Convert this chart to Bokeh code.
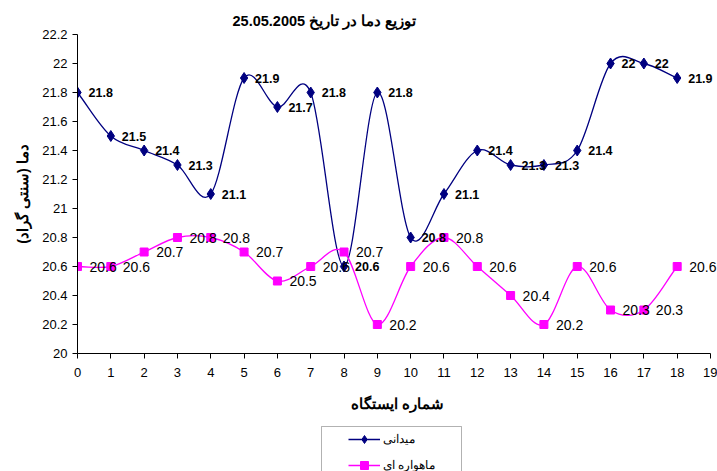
import numpy as np
from bokeh.plotting import figure
from bokeh.layouts import column
from bokeh.models import Range1d, FixedTicker, Legend, LegendItem, ColumnDataSource, BoxAnnotation
from bokeh.core.properties import value
from bokeh.embed import file_html
from bokeh.resources import INLINE

stations = list(range(19))
field = [21.8, 21.5, 21.4, 21.3, 21.1, 21.9, 21.7, 21.8, 20.6, 21.8, 20.8, 21.1, 21.4, 21.3, 21.3, 21.4, 22.0, 22.0, 21.9]
satellite = [20.6, 20.6, 20.7, 20.8, 20.8, 20.7, 20.5, 20.6, 20.7, 20.2, 20.6, 20.8, 20.6, 20.4, 20.2, 20.6, 20.3, 20.3, 20.6]
y_ticks = [20.0, 20.2, 20.4, 20.6, 20.8, 21.0, 21.2, 21.4, 21.6, 21.8, 22.0, 22.2]
x_ticks = list(range(20))

title_text = "توزیع دما در تاریخ 25.05.2005"
x_title = "شماره ایستگاه"
y_title = "دما (سنتی گراد)"
name_field = "میدانی"
name_sat = "ماهواره ای"

NAVY = "#000080"
MAGENTA = "#FF00FF"
FONT = "Liberation Sans"

X_AXIS_END = 19
X_VIEW_END = X_AXIS_END * 640 / 633   # a few px of room right of the axis for the last labels


def smooth_segments(xs, ys):
    xs = np.asarray(xs, float)
    ys = np.asarray(ys, float)
    n = len(xs)
    tx = np.zeros(n)
    ty = np.zeros(n)
    for i in range(n):
        a = max(i - 1, 0)
        b = min(i + 1, n - 1)
        tx[i] = (xs[b] - xs[a]) / (b - a) if b != a else 0
        ty[i] = (ys[b] - ys[a]) / (b - a) if b != a else 0
    return dict(
        x0=xs[:-1], y0=ys[:-1], x1=xs[1:], y1=ys[1:],
        cx0=xs[:-1] + tx[:-1] / 3, cy0=ys[:-1] + ty[:-1] / 3,
        cx1=xs[1:] - tx[1:] / 3, cy1=ys[1:] - ty[1:] / 3,
    )


# ---------------- main chart ----------------
p = figure(width=717, height=418, output_backend="svg", toolbar_location=None,
           x_range=Range1d(0, X_VIEW_END), y_range=Range1d(20, 22.2),
           min_border_left=77, min_border_right=0, min_border_top=34, min_border_bottom=65)
p.outline_line_color = None
p.xgrid.visible = False
p.ygrid.visible = False
p.background_fill_color = "white"

p.title.text = title_text
p.title.align = "left"
p.title.offset = 155
p.title.text_font = FONT
p.title.text_font_style = "bold"
p.title.text_font_size = "14.5px"
p.title.text_color = "black"
p.title.standoff = 12

for ax in (p.xaxis[0], p.yaxis[0]):
    ax.axis_line_color = "black"
    ax.major_tick_line_color = "black"
    ax.minor_tick_line_color = None
    ax.major_tick_in = 0
    ax.major_tick_out = 5
    ax.major_label_text_font = FONT
    ax.major_label_text_font_size = "13px"
    ax.major_label_text_color = "black"
    ax.axis_label_text_font = FONT
    ax.axis_label_text_font_style = "bold"
    ax.axis_label_text_font_size = "14.5px"
    ax.axis_label_text_color = "black"

p.yaxis[0].ticker = FixedTicker(ticks=y_ticks)
p.yaxis[0].major_label_overrides = {t: f"{t:g}" for t in y_ticks}
p.yaxis[0].major_label_standoff = 5
p.yaxis[0].axis_label = y_title
p.yaxis[0].axis_label_standoff = 8
p.xaxis[0].ticker = FixedTicker(ticks=x_ticks)
p.xaxis[0].bounds = (0, X_AXIS_END)
p.xaxis[0].major_label_standoff = 9
p.xaxis[0].axis_label = x_title
p.xaxis[0].axis_label_standoff = 16

src_f = ColumnDataSource(smooth_segments(stations, field))
src_s = ColumnDataSource(smooth_segments(stations, satellite))
p.bezier(x0="x0", y0="y0", x1="x1", y1="y1", cx0="cx0", cy0="cy0", cx1="cx1", cy1="cy1",
         source=src_f, line_color=NAVY, line_width=1.3)
p.bezier(x0="x0", y0="y0", x1="x1", y1="y1", cx0="cx0", cy0="cy0", cx1="cx1", cy1="cy1",
         source=src_s, line_color=MAGENTA, line_width=1.3)
p.scatter(stations, field, marker="diamond", size=11, color=NAVY)
p.scatter(stations, satellite, marker="square", size=8, color=MAGENTA)

p.text(stations, field, text=[f"{v:g}" for v in field], x_offset=11, text_baseline="middle",
       text_font=value(FONT), text_font_style="bold", text_font_size="12.5px", text_color="black")
p.text(stations, satellite, text=[f"{v:g}" for v in satellite], x_offset=12, text_baseline="middle",
       text_font=value(FONT), text_font_size="14px", text_color="black")

# ---------------- legend strip (frame aligned with the main chart: page x 77..717) ----------------
p2 = figure(width=717, height=53, output_backend="svg", toolbar_location=None,
            x_range=Range1d(77, 717), y_range=Range1d(471, 418),
            x_axis_location=None, y_axis_location=None,
            min_border_left=77, min_border_right=0, min_border_top=0, min_border_bottom=0)
p2.outline_line_color = None
p2.grid.visible = False
p2.background_fill_color = "white"
p2.add_layout(BoxAnnotation(left=321, right=461, top=426, bottom=490,
                            fill_color="white", fill_alpha=1, line_color="black", line_width=1))
# legend swatch renderers: same series, falling outside this strip's view
lf = p2.line(stations, field, line_color=NAVY, line_width=1.3)
sf = p2.scatter(stations, field, marker="diamond", size=11, color=NAVY)
lsat = p2.line(stations, satellite, line_color=MAGENTA, line_width=1.3)
ssat = p2.scatter(stations, satellite, marker="square", size=8, color=MAGENTA)
legend = Legend(items=[LegendItem(label=name_field, renderers=[lf, sf]),
                       LegendItem(label=name_sat, renderers=[lsat, ssat])],
                location=(271, -4), border_line_color=None, background_fill_alpha=0,
                label_text_font=FONT, label_text_font_size="12px", label_text_color="black",
                glyph_width=32, glyph_height=20, spacing=6, padding=2, margin=0, label_standoff=3)
p2.add_layout(legend, "center")

layout = column(p, p2, spacing=0)
open("out.html", "w").write(file_html(layout, INLINE))
